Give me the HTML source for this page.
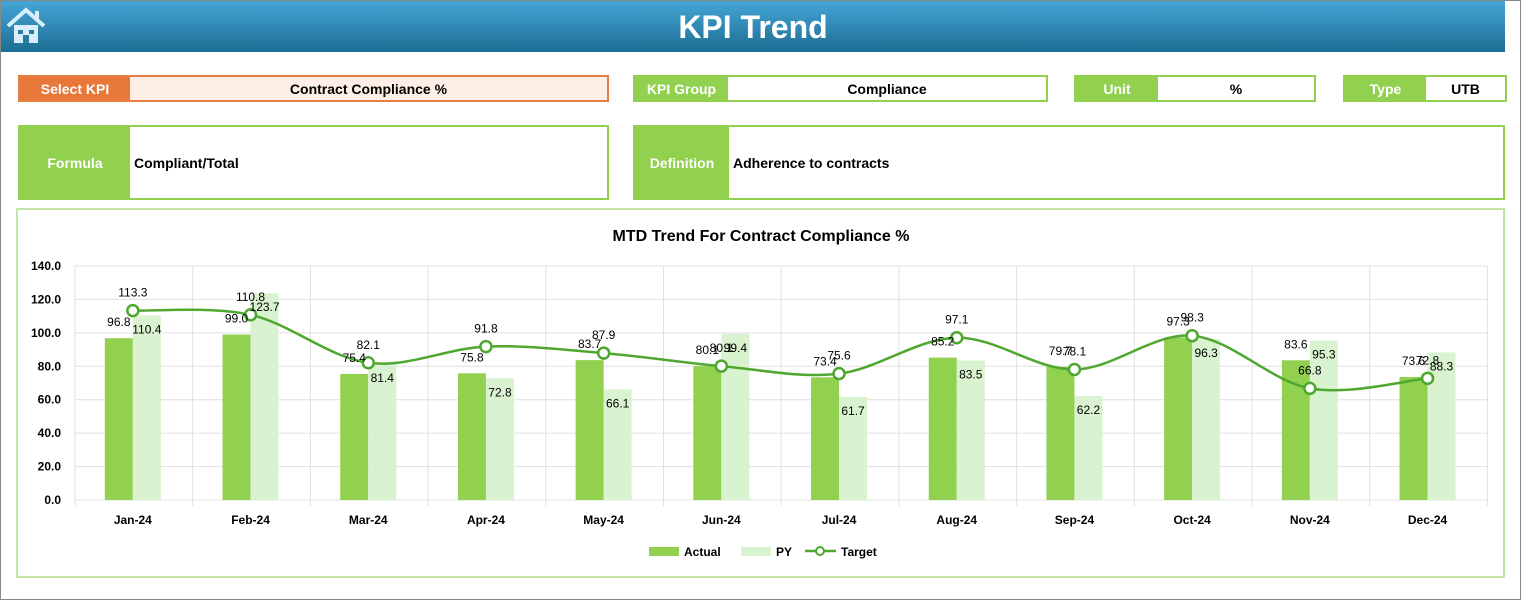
<!DOCTYPE html>
<html><head><meta charset="utf-8">
<style>
*{box-sizing:border-box;margin:0;padding:0}
body{width:1521px;height:600px;background:#fff;font-family:"Liberation Sans",sans-serif;position:relative;overflow:hidden}
.frame{position:absolute;left:0;top:0;width:1521px;height:600px;border:1px solid #888}
.hdr{position:absolute;left:1px;top:1px;width:1504px;height:51px;background:linear-gradient(#45a6d6,#1d6d93);}
.hdr h1{position:absolute;left:0;width:1504px;text-align:center;top:8px;color:#fff;font-size:32px;font-weight:bold}
.f{position:absolute;display:flex;font-size:14px;font-weight:bold}
.f .l{color:#fff;display:flex;align-items:center;justify-content:center}
.f .v{flex:1;display:flex;align-items:center;justify-content:center;color:#000}
.g{border:2px solid #92d050}.g .l{background:#92d050}
.chart{position:absolute;left:16px;top:208px;width:1489px;height:370px;border:2px solid #c5e5a8}
</style></head><body>
<div class="frame"></div>
<div class="hdr"><h1>KPI Trend</h1>
<svg style="position:absolute;left:5px;top:5px" width="40" height="40" viewBox="0 0 40 40"><path d="M2 20 L20 4 L38 20" stroke="#d8eefa" stroke-width="4" fill="none"/><rect x="29" y="5" width="4" height="9" fill="#d8eefa"/><rect x="8" y="19" width="24" height="18" fill="#d8eefa"/><rect x="12" y="24" width="5" height="4" fill="#2a7aa3"/><rect x="23" y="24" width="5" height="4" fill="#2a7aa3"/><rect x="17" y="29" width="6" height="8" fill="#2a7aa3"/></svg></div>
<div class="f" style="left:18px;top:75px;width:591px;height:27px;border:2px solid #e47e45"><div class="l" style="width:110px;background:#e8773a">Select KPI</div><div class="v" style="background:#fdeee6">Contract Compliance %</div></div>
<div class="f g" style="left:633px;top:75px;width:415px;height:27px"><div class="l" style="width:93px">KPI Group</div><div class="v">Compliance</div></div>
<div class="f g" style="left:1074px;top:75px;width:242px;height:27px"><div class="l" style="width:82px">Unit</div><div class="v">%</div></div>
<div class="f g" style="left:1343px;top:75px;width:164px;height:27px"><div class="l" style="width:81px">Type</div><div class="v">UTB</div></div>
<div class="f g" style="left:18px;top:125px;width:591px;height:75px"><div class="l" style="width:110px">Formula</div><div class="v" style="justify-content:flex-start;padding-left:4px">Compliant/Total</div></div>
<div class="f g" style="left:633px;top:125px;width:872px;height:75px"><div class="l" style="width:94px">Definition</div><div class="v" style="justify-content:flex-start;padding-left:4px">Adherence to contracts</div></div>
<div class="chart"></div>
<svg id="c" style="position:absolute;left:0;top:0" width="1521" height="600" font-family="Liberation Sans" font-weight="bold"></svg>
<script>
var A=[96.8,99.0,75.4,75.8,83.7,80.1,73.4,85.2,79.7,97.3,83.6,73.6],
P=[110.4,123.7,81.4,72.8,66.1,99.4,61.7,83.5,62.2,96.3,95.3,88.3],
T=[113.3,110.8,82.1,91.8,87.9,80.1,75.6,97.1,78.1,98.3,66.8,72.8],
M=['Jan-24','Feb-24','Mar-24','Apr-24','May-24','Jun-24','Jul-24','Aug-24','Sep-24','Oct-24','Nov-24','Dec-24'];
var s='',L=75,W=117.7,Y=v=>500-v*1.6714;
s+='<text x="761" y="241" text-anchor="middle" font-size="16">MTD Trend For Contract Compliance %</text>';
for(var i=0;i<=7;i++){var y=Y(i*20);s+='<line x1="'+L+'" x2="1487" y1="'+y+'" y2="'+y+'" stroke="#e0e0e0"/>';s+='<text x="61" y="'+(y+4)+'" text-anchor="end" font-size="12">'+(i*20).toFixed(1)+'</text>';}
for(var i=0;i<=12;i++){var x=L+i*W;s+='<line x1="'+x+'" x2="'+x+'" y1="266" y2="506" stroke="#e0e0e0"/>';}
var pts=[];
for(var i=0;i<12;i++){var c=L+W*(i+.5)-1;
s+='<rect x="'+(c-28)+'" y="'+Y(A[i])+'" width="28" height="'+(A[i]*1.6714)+'" fill="#92d050"/>';
s+='<rect x="'+c+'" y="'+Y(P[i])+'" width="28" height="'+(P[i]*1.6714)+'" fill="#d9f2d0"/>';
s+='<text x="'+c+'" y="524" text-anchor="middle" font-size="12">'+M[i]+'</text>';
pts.push([c,Y(T[i])]);}
var d='M'+pts[0];
for(var i=0;i<11;i++){var p0=pts[Math.max(0,i-1)],p1=pts[i],p2=pts[i+1],p3=pts[Math.min(11,i+2)];
d+=' C'+(p1[0]+(p2[0]-p0[0])/6)+','+(p1[1]+(p2[1]-p0[1])/6)+' '+(p2[0]-(p3[0]-p1[0])/6)+','+(p2[1]-(p3[1]-p1[1])/6)+' '+p2;}
s+='<path d="'+d+'" stroke="#4ea72e" stroke-width="2.5" fill="none"/>';
for(var i=0;i<12;i++){var c=pts[i][0];
s+='<circle cx="'+c+'" cy="'+pts[i][1]+'" r="5.5" fill="#fff" stroke="#4ea72e" stroke-width="2.5"/>';
s+='<text font-weight="normal" x="'+(c-14)+'" y="'+(Y(A[i])-12)+'" text-anchor="middle" font-size="12">'+A[i].toFixed(1)+'</text>';
s+='<text font-weight="normal" x="'+(c+14)+'" y="'+(Y(P[i])+18)+'" text-anchor="middle" font-size="12">'+P[i].toFixed(1)+'</text>';
s+='<text font-weight="normal" x="'+c+'" y="'+(pts[i][1]-14)+'" text-anchor="middle" font-size="12">'+T[i].toFixed(1)+'</text>';}
s+='<rect x="649" y="547" width="30" height="9" fill="#92d050"/><text x="684" y="556" font-size="12">Actual</text>';
s+='<rect x="741" y="547" width="30" height="9" fill="#d9f2d0"/><text x="776" y="556" font-size="12">PY</text>';
s+='<line x1="805" x2="836" y1="551" y2="551" stroke="#4ea72e" stroke-width="2.5"/><circle cx="820" cy="551" r="4" fill="#fff" stroke="#4ea72e" stroke-width="2"/><text x="841" y="556" font-size="12">Target</text>';
document.getElementById('c').innerHTML=s;
</script>
</body></html>
